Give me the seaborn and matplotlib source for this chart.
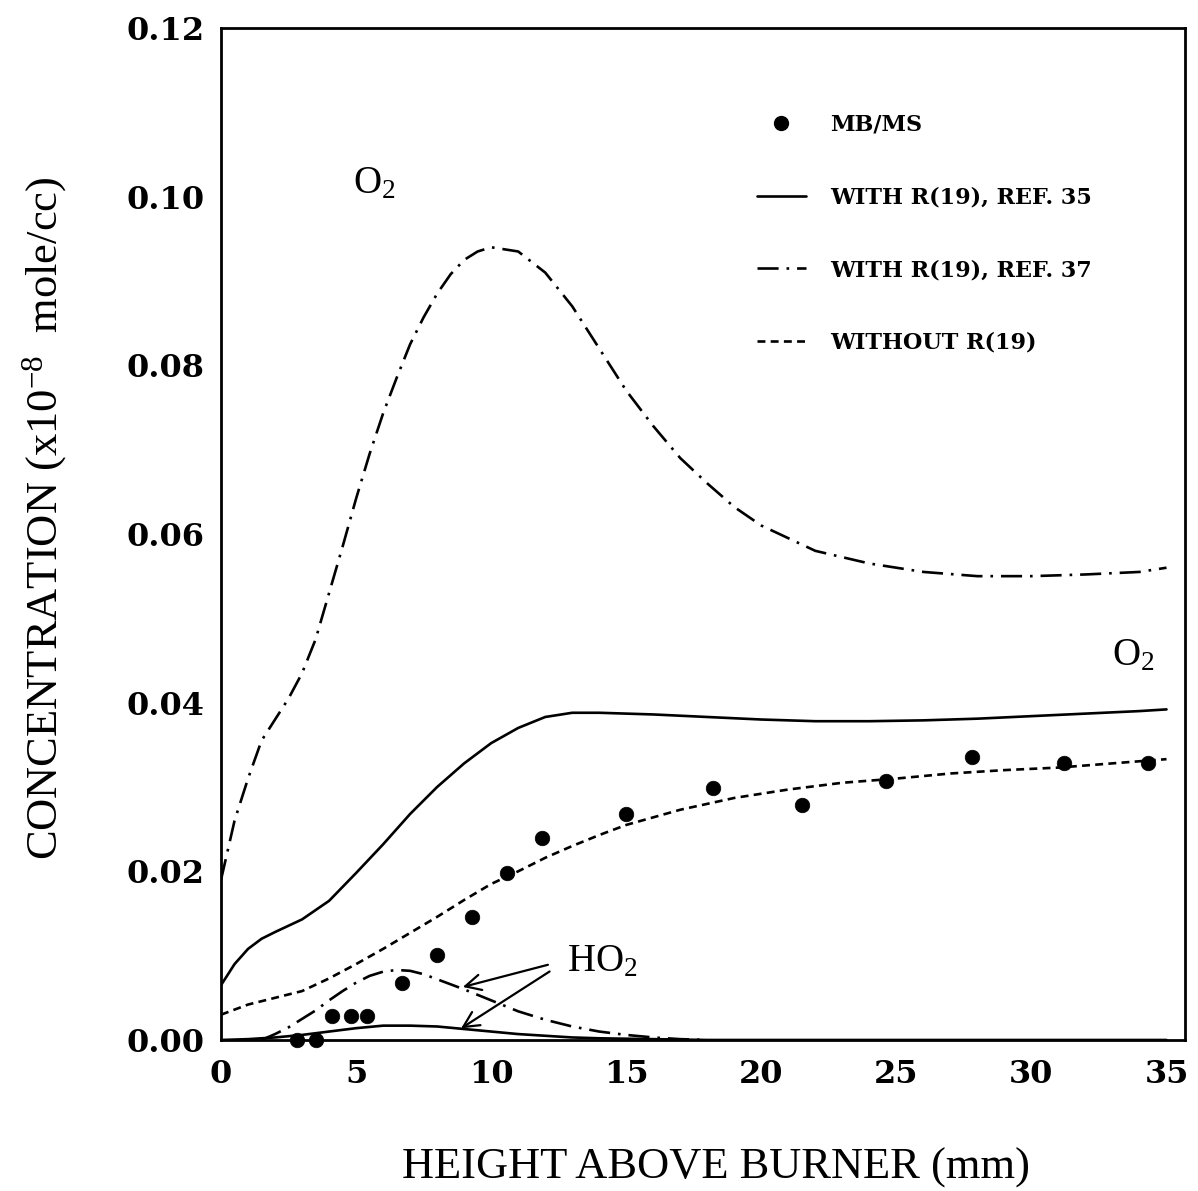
import numpy as np
import pandas as pd
import matplotlib
matplotlib.use("Agg")
import matplotlib.pyplot as plt
import seaborn as sns
from matplotlib.lines import Line2D

sns.set_theme(style="white")
plt.rcParams['font.family'] = ['Liberation Serif', 'DejaVu Serif']
plt.rcParams['mathtext.fontset'] = 'custom'
plt.rcParams['mathtext.rm'] = 'Liberation Serif'
plt.rcParams['mathtext.it'] = 'Liberation Serif:italic'
plt.rcParams['mathtext.bf'] = 'Liberation Serif:bold'
plt.rcParams['text.color'] = 'black'
plt.rcParams['axes.labelcolor'] = 'black'

# ---------------- data ----------------
# O2, with R(19), Ref. 35 (solid)
o2_ref35_x = [0, 0.5, 1, 1.5, 2, 3, 4, 5, 6, 7, 8, 9, 10, 11, 12, 13, 14, 16, 18, 20, 22, 24, 26, 28, 30, 32, 34, 35]
o2_ref35_y = [0.0065, 0.009, 0.0108, 0.012, 0.0128, 0.0143, 0.0165, 0.0198, 0.0232, 0.0268, 0.0300, 0.0328,
              0.0352, 0.0370, 0.0383, 0.0388, 0.0388, 0.0386, 0.0383, 0.0380, 0.0378, 0.0378, 0.0379, 0.0381,
              0.0384, 0.0387, 0.0390, 0.0392]

# O2, with R(19), Ref. 37 (dash-dot)
o2_ref37_x = [0, 0.5, 1, 1.5, 2, 2.5, 3, 3.5, 4, 4.5, 5, 5.5, 6, 6.5, 7, 7.5, 8, 8.5, 9, 9.5, 10, 11, 12, 13,
              14, 15, 16, 17, 18, 19, 20, 22, 24, 26, 28, 30, 32, 34, 35]
o2_ref37_y = [0.019, 0.026, 0.031, 0.0355, 0.038, 0.0405, 0.0435, 0.0475, 0.053, 0.0585, 0.0642, 0.0695,
              0.0743, 0.0785, 0.0825, 0.0857, 0.0885, 0.0908, 0.0925, 0.0935, 0.094, 0.0935, 0.091, 0.087,
              0.082, 0.077, 0.0728, 0.069, 0.066, 0.0632, 0.061, 0.058, 0.0565, 0.0555, 0.055, 0.055,
              0.0552, 0.0555, 0.056]

# O2, without R(19) (dashed)
o2_noR19_x = [0, 1, 2, 3, 4, 5, 6, 7, 8, 9, 10, 11, 12, 13, 14, 15, 17, 19, 21, 23, 25, 27, 29, 31, 33, 35]
o2_noR19_y = [0.003, 0.0042, 0.005, 0.0058, 0.0073, 0.009, 0.0108, 0.0127, 0.0146, 0.0166, 0.0185, 0.020,
              0.0216, 0.023, 0.0243, 0.0255, 0.0273, 0.0287, 0.0297, 0.0305, 0.031, 0.0316, 0.032, 0.0323,
              0.0328, 0.0333]

# HO2, with R(19), Ref. 35 (solid)
ho2_ref35_x = [0, 1, 2, 3, 4, 5, 6, 7, 8, 9, 10, 11, 12, 13, 14, 16, 18, 20, 25, 30, 35]
ho2_ref35_y = [0.0, 0.0001, 0.0003, 0.0006, 0.001, 0.0014, 0.0017, 0.0017, 0.0016, 0.0013, 0.001, 0.0007,
               0.0005, 0.0003, 0.0002, 0.0001, 0.0, 0.0, 0.0, 0.0, 0.0]

# HO2, with R(19), Ref. 37 (dash-dot)
ho2_ref37_x = [1.5, 2, 2.5, 3, 3.5, 4, 4.5, 5, 5.5, 6, 6.5, 7, 7.5, 8, 9, 10, 11, 12, 13, 14, 15, 16, 17, 18]
ho2_ref37_y = [0.0, 0.0007, 0.0015, 0.0025, 0.0035, 0.0047, 0.0058, 0.0068, 0.0076, 0.0081, 0.0083, 0.0082,
               0.0078, 0.0072, 0.006, 0.0047, 0.0034, 0.0024, 0.0016, 0.001, 0.0006, 0.0003, 0.0001, 0.0]

# MB/MS measurements
mbms_x = [2.8, 3.5, 4.1, 4.8, 5.4, 6.7, 8.0, 9.3, 10.6, 11.9, 15.0, 18.2, 21.5, 24.6, 27.8, 31.2, 34.3]
mbms_y = [0.0, 0.0, 0.0028, 0.0028, 0.0028, 0.0067, 0.0101, 0.0146, 0.0198, 0.0240, 0.0268, 0.0299,
          0.0279, 0.0307, 0.0335, 0.0329, 0.0329]

x_ticks = [0, 5, 10, 15, 20, 25, 30, 35]
y_ticks = [0.00, 0.02, 0.04, 0.06, 0.08, 0.10, 0.12]

legend_labels = ["MB/MS", "WITH R(19), REF. 35", "WITH R(19), REF. 37", "WITHOUT R(19)"]

# ---------------- plot ----------------
fig = plt.figure(figsize=(11.98, 11.91), dpi=100)
ax = fig.add_axes([0.1845, 0.1268, 0.805, 0.8497])

lw = 1.9
dashdot = (0, (8, 3, 1, 3))
dashed = (0, (3, 2))

def draw(xs, ys, ls):
    df = pd.DataFrame({"x": xs, "y": ys})
    sns.lineplot(data=df, x="x", y="y", ax=ax, color="black", lw=lw, linestyle=ls,
                 sort=True, estimator=None)

draw(o2_ref35_x, o2_ref35_y, "-")
draw(o2_ref37_x, o2_ref37_y, dashdot)
draw(o2_noR19_x, o2_noR19_y, dashed)
draw(ho2_ref35_x, ho2_ref35_y, "-")
draw(ho2_ref37_x, ho2_ref37_y, dashdot)

pts = pd.DataFrame({"x": mbms_x, "y": mbms_y})
sns.scatterplot(data=pts, x="x", y="y", ax=ax, color="black", s=110, edgecolor="black",
                linewidth=0.5, zorder=5, clip_on=False)

ax.set_xlim(0, 35.7)
ax.set_ylim(0, 0.12)
ax.set_xticks(x_ticks)
ax.set_yticks(y_ticks)
ax.set_xticklabels([str(t) for t in x_ticks])
ax.set_yticklabels([f"{t:.2f}" for t in y_ticks])
ax.tick_params(axis="both", direction="in", labelsize=23, width=1.8, colors="black")
ax.tick_params(axis="y", length=11, pad=12)
ax.tick_params(axis="x", length=7, pad=14)
for lab in ax.get_xticklabels() + ax.get_yticklabels():
    lab.set_fontweight("bold")
    lab.set_family("DejaVu Serif")
for sp in ax.spines.values():
    sp.set_visible(True)
    sp.set_color("black")
    sp.set_linewidth(2.0)

ax.set_xlabel("HEIGHT ABOVE BURNER (mm)", fontsize=32)
ax.set_ylabel("CONCENTRATION (x10$^{-8}$  mole/cc)", fontsize=32)
ax.xaxis.set_label_coords(0.513, -0.106)
ax.yaxis.set_label_coords(-0.158, 0.515)

# annotations
ax.text(4.9, 0.1015, "O$_2$", fontsize=28, ha="left", va="center")
ax.text(33.0, 0.0455, "O$_2$", fontsize=28, ha="left", va="center")
ax.text(12.8, 0.0093, "HO$_2$", fontsize=28, ha="left", va="center")
ax.annotate("", xy=(8.85, 0.0062), xytext=(12.2, 0.0090),
            arrowprops=dict(arrowstyle="->", lw=1.6, color="black", mutation_scale=28))
ax.annotate("", xy=(8.8, 0.0012), xytext=(12.25, 0.0083),
            arrowprops=dict(arrowstyle="->", lw=1.6, color="black", mutation_scale=28))

handles = [
    Line2D([], [], marker="o", color="black", linestyle="none", markersize=10),
    Line2D([], [], color="black", lw=lw, linestyle="-"),
    Line2D([], [], color="black", lw=lw, linestyle=dashdot),
    Line2D([], [], color="black", lw=lw, linestyle=dashed),
]
leg = ax.legend(handles, legend_labels, loc="upper left", bbox_to_anchor=(0.535, 0.935),
                frameon=False, handlelength=2.2, handletextpad=1.1, labelspacing=2.28,
                prop={"family": "DejaVu Serif", "weight": "bold", "size": 16})

fig.savefig("out.png", dpi=100)
